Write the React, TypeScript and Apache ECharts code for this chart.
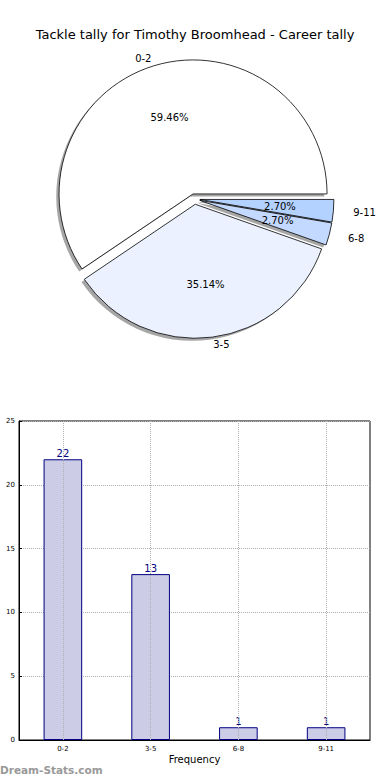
import React, { useEffect, useRef } from 'react';
import * as echarts from 'echarts';

const titleText = 'Tackle tally for Timothy Broomhead - Career tally';
const pieCategories = ['0-2', '3-5', '6-8', '9-11'];
const pieValues = [22, 13, 1, 1];
const pieColors = ['#ffffff', '#ebf1fe', '#c4d9ff', '#b4d2ff'];
const barCategories = ['0-2', '3-5', '6-8', '9-11'];
const barValues = [22, 13, 1, 1];
const yMin = 0;
const yMax = 25;
const yStep = 5;

const FONT = 'DejaVu Sans';

export default function App() {
  const ref = useRef<HTMLDivElement>(null);
  useEffect(() => {
    if (!ref.current) return;
    const chart = echarts.init(ref.current, undefined, { renderer: 'svg' });
    const R = 134;
    const RX = 140;
    const RY = 128;
    const cx = 194.6;
    const cy = 199;
    const off = 5.3;

    const total = pieValues.reduce((a, b) => a + b, 0);
    let acc = 0;
    const midAngles = pieValues.map((v) => {
      const m = ((acc + v / 2) / total) * Math.PI * 2;
      acc += v;
      return m;
    });
    const ellR = (t: number) => Math.sqrt((RX * Math.cos(t)) ** 2 + (RY * Math.sin(t)) ** 2);

    const mkData = (colorFn: (i: number) => string, labelFn?: (i: number) => boolean) =>
      pieCategories.map((c, i) => {
        const d: any = {
          name: c,
          value: pieValues[i],
          selected: true,
          itemStyle: { color: colorFn(i) },
        };
        if (labelFn) d.label = { show: labelFn(i) };
        return d;
      });

    const basePie = {
      type: 'pie',
      startAngle: 0,
      clockwise: false,
      selectedMode: 'multiple',
      selectedOffset: off,
      avoidLabelOverlap: false,
      silent: true,
      emphasis: { disabled: true },
      select: { itemStyle: {} },
    };

    const nameSeries = pieCategories.map((c, k) => ({
      ...basePie,
      name: 'names-' + c,
      center: [cx, cy],
      radius: [0, 1.1 * ellR(midAngles[k])],
      z: 3,
      itemStyle: { color: 'transparent', borderWidth: 0 },
      label: {
        show: true,
        position: 'outside',
        fontFamily: FONT,
        fontSize: 10,
        color: '#000',
        distanceToLabelLine: 0,
        formatter: '{b}',
      },
      labelLine: { show: false, length: 0, length2: 0 },
      data: mkData(() => 'transparent', (i) => i === k),
    }));

    const option: any = {
      animation: false,
      title: {
        text: titleText,
        left: 'center',
        top: 23,
        textStyle: { fontFamily: FONT, fontSize: 13, fontWeight: 'normal', color: '#000' },
      },
      grid: {
        left: 19,
        top: 421,
        right: 20,
        bottom: 40,
        show: true,
        borderColor: '#000',
        borderWidth: 1,
        containLabel: false,
        outerBoundsMode: 'none',
      },
      xAxis: {
        type: 'category',
        data: barCategories,
        name: 'Frequency',
        nameLocation: 'middle',
        nameGap: 14,
        nameTextStyle: { fontFamily: FONT, fontSize: 10, color: '#000' },
        axisLine: { lineStyle: { color: '#000', width: 1 } },
        axisTick: { show: true, inside: true, alignWithLabel: true, length: 3, lineStyle: { color: '#000' } },
        axisLabel: { fontFamily: FONT, fontSize: 7, color: '#000', margin: 5 },
        splitLine: { show: false },
      },
      yAxis: {
        type: 'value',
        min: yMin,
        max: yMax,
        interval: yStep,
        name: 'Number of Games',
        nameLocation: 'middle',
        nameGap: 13,
        nameTextStyle: { fontFamily: FONT, fontSize: 10, color: '#000' },
        axisLine: { show: true, lineStyle: { color: '#000', width: 1 } },
        axisTick: { show: true, inside: true, length: 3, lineStyle: { color: '#000' } },
        axisLabel: { fontFamily: FONT, fontSize: 7, color: '#000', margin: 4 },
        splitLine: { show: true, lineStyle: { type: 'dotted', color: '#b0b0b0', width: 1 } },
      },
      series: [
        {
          ...basePie,
          name: 'shadow',
          center: [cx - 2.8, cy + 2.6],
          radius: [0, R],
          z: 1,
          label: { show: false },
          labelLine: { show: false },
          data: mkData(() => '#a6a6a6'),
        },
        {
          ...basePie,
          name: 'pie',
          center: [cx, cy],
          radius: [0, R],
          z: 2,
          itemStyle: { borderColor: '#000', borderWidth: 0.8 },
          label: { show: false },
          labelLine: { show: false },
          data: mkData((i) => pieColors[i]),
        },
        {
          ...basePie,
          name: 'pct',
          center: [cx, cy],
          radius: [0, 1.2 * R - 6],
          z: 3,
          itemStyle: { color: 'transparent', borderWidth: 0 },
          label: {
            show: true,
            position: 'inside',
            fontFamily: FONT,
            fontSize: 10,
            color: '#000',
            formatter: (p: any) => p.percent.toFixed(2) + '%',
          },
          labelLine: { show: false },
          data: mkData(() => 'transparent'),
        },
        ...nameSeries,
        {
          type: 'bar',
          data: barValues,
          barWidth: '44%',
          itemStyle: { color: '#ccccE6', borderColor: '#000080', borderWidth: 1 },
          label: {
            show: true,
            position: 'top',
            distance: 1,
            color: '#000080',
            fontFamily: FONT,
            fontSize: 10,
          },
          markLine: {
            silent: true,
            symbol: 'none',
            label: { show: false },
            lineStyle: { type: 'dotted', color: '#b0b0b0', width: 1 },
            data: barCategories.map((c) => ({ xAxis: c })),
          },
        },
      ],
      graphic: [
        {
          type: 'text',
          left: 0,
          top: 764,
          style: {
            text: 'Dream-Stats.com',
            fill: '#999999',
            font: 'bold 10.5px "DejaVu Sans"',
          },
        },
      ],
    };
    chart.setOption(option);
    return () => chart.dispose();
  }, []);
  return (
    <div
      ref={ref}
      style={{ position: 'fixed', left: 0, top: 0, width: 390, height: 780, background: '#fff' }}
    />
  );
}
